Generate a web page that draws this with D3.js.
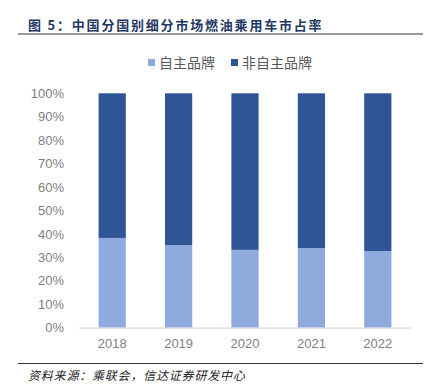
<!DOCTYPE html>
<html lang="zh">
<head>
<meta charset="UTF-8">
<title>燃油乘用车市占率</title>
<script src="https://cdn.jsdelivr.net/npm/d3@7"></script>
<style>
    body { margin: 0; background: #fff; }
    svg { display: block; font-family: "Liberation Sans", "Noto Sans CJK SC", sans-serif; }
</style>
</head>
<body>
<svg id="chart" width="431" height="388"></svg>
<script>
// data
const years = ['2018', '2019', '2020', '2021', '2022'];
const domestic = [0.383, 0.352, 0.332, 0.340, 0.327];   // 自主品牌
const foreign = domestic.map(d => 1 - d);              // 非自主品牌 (remainder to 100%)
const seriesNames = ['自主品牌', '非自主品牌'];
const colors = ['#8FAADC', '#2F5597'];
const yTicks = [0, 0.1, 0.2, 0.3, 0.4, 0.5, 0.6, 0.7, 0.8, 0.9, 1];

const svg = d3.select('#chart');
const margin = { left: 79, right: 20, top: 93, bottom: 60 };
const plotW = 431 - margin.left - margin.right;
const plotB = 327.7;

const x = d3.scaleBand().domain(years).range([margin.left, margin.left + plotW]).paddingInner(0.59).paddingOuter(0.295);
const y = d3.scaleLinear().domain([0, 1]).range([plotB, 93.3]);

// title
svg.append('text')
    .attr('x', 28).attr('y', 30)
    .attr('font-family', '"Noto Sans CJK SC", sans-serif')
    .attr('font-size', 13).attr('font-weight', 'bold')
    .attr('letter-spacing', 1.8)
    .attr('fill', '#1F3864')
    .text('图 5：中国分国别细分市场燃油乘用车市占率');
svg.append('line').attr('x1', 18).attr('x2', 423).attr('y1', 34).attr('y2', 34)
    .attr('stroke', '#333').attr('stroke-width', 1);

// legend
const legendX = [148, 231];
seriesNames.forEach((name, i) => {
    svg.append('rect').attr('x', legendX[i]).attr('y', 59).attr('width', 7).attr('height', 7).attr('fill', colors[i]);
    svg.append('text').attr('x', legendX[i] + 11).attr('y', 68)
        .attr('font-family', '"Noto Sans CJK SC", sans-serif')
        .attr('font-size', 14).attr('fill', '#595959').text(name);
});

// bars
const stacked = years.map((yr, i) => ({ year: yr, parts: [domestic[i], foreign[i]] }));
stacked.forEach(d => {
    let base = 0;
    d.parts.forEach((v, j) => {
        svg.append('rect')
            .attr('x', x(d.year))
            .attr('width', x.bandwidth())
            .attr('y', y(base + v))
            .attr('height', y(base) - y(base + v))
            .attr('fill', colors[j]);
        base += v;
    });
});

// y axis
const yAxis = svg.append('g').attr('transform', `translate(${margin.left - 12},0)`)
    .call(d3.axisLeft(y).tickValues(yTicks).tickFormat(d3.format('.0%')).tickSize(0));
yAxis.select('.domain').remove();
yAxis.selectAll('text').attr('font-size', 13).attr('fill', '#7F7F7F').attr('dx', 0);

// x axis
const xAxis = svg.append('g').attr('transform', `translate(0,${plotB})`)
    .call(d3.axisBottom(x).tickSize(0));
xAxis.select('.domain').attr('stroke', '#D9D9D9').attr('stroke-width', 1.3);
xAxis.selectAll('text').attr('font-size', 13).attr('fill', '#7F7F7F').attr('dy', '1.3em');

// source
svg.append('line').attr('x1', 18).attr('x2', 423).attr('y1', 363.5).attr('y2', 363.5)
    .attr('stroke', '#333').attr('stroke-width', 1);
svg.append('text').attr('x', 28).attr('y', 380)
    .attr('font-family', '"Noto Sans CJK SC", sans-serif')
    .attr('font-size', 12).attr('font-style', 'italic').attr('fill', '#222')
    .attr('letter-spacing', 0.8)
    .text('资料来源：乘联会，信达证券研发中心');
</script>
</body>
</html>
